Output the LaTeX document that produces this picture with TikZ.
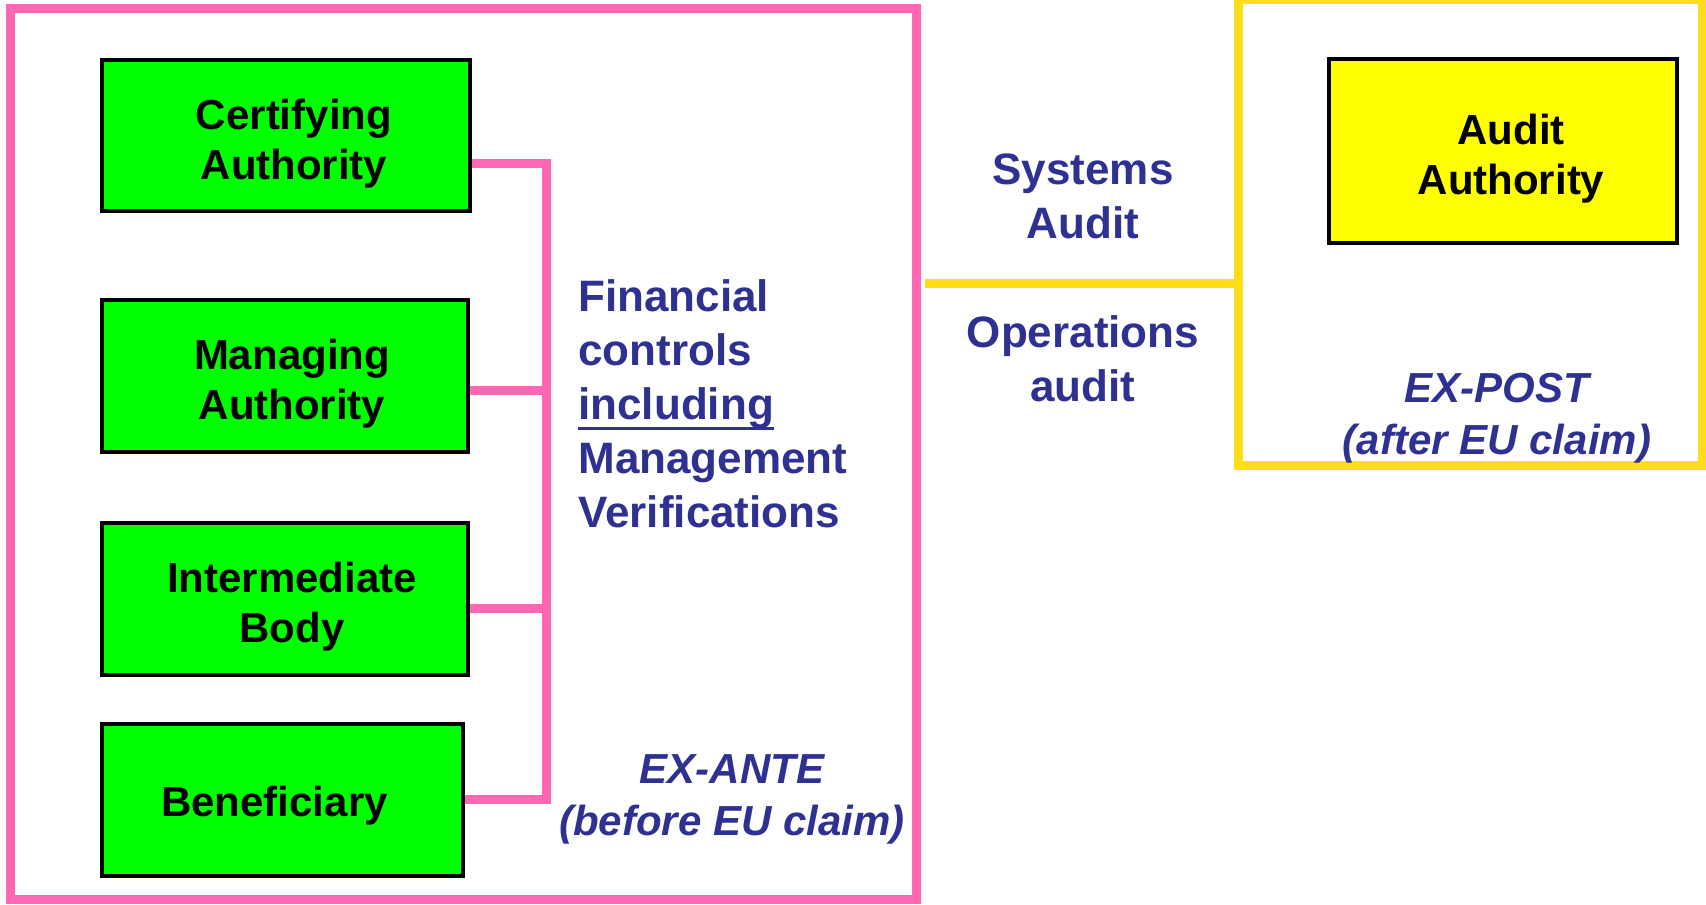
\documentclass[tikz,border=0pt]{standalone}
\usepackage{fontspec}
\setmainfont{Liberation Sans}
\usepackage{tikz}
\definecolor{pnk}{RGB}{255,102,180}
\definecolor{ylw}{RGB}{255,222,23}
\definecolor{grn}{RGB}{0,255,0}
\definecolor{lem}{RGB}{255,255,0}
\definecolor{blu}{RGB}{46,49,146}
\newcommand{\thickul}[1]{\setbox0\hbox{#1}\rlap{\rule[-5.5pt]{\wd0}{1.7pt}}\box0}
\tikzset{
  unitbox/.style={draw=black,line width=1.6pt,inner sep=0pt},
  boxtxt/.style={align=center,inner sep=0pt,font=\fontsize{21}{25}\selectfont\bfseries},
  zone/.style={line width=4.5pt,inner sep=0pt},
  bluetxt/.style={text=blu,inner sep=0pt,font=\fontsize{22}{27}\selectfont\bfseries},
  ittxt/.style={text=blu,inner sep=0pt,align=center,font=\fontsize{21}{26}\selectfont\bfseries\itshape},
  link/.style={draw=pnk,line width=4.5pt}
}

\begin{document}
\begin{tikzpicture}[x=0.5pt,y=-0.5pt]
\useasboundingbox (0,0) rectangle (1706,904);
\node[zone,draw=pnk,minimum width=453pt,minimum height=445pt] (ante) at (463,454) {};
\node[zone,draw=ylw,minimum width=232pt,minimum height=232.5pt] (post) at (1470,232.5) {};
\node[unitbox,fill=grn,minimum width=184pt,minimum height=75.5pt] (ca) at (286,135.5) {};
\node[unitbox,fill=grn,minimum width=183pt,minimum height=76pt] (ma) at (285,376) {};
\node[unitbox,fill=grn,minimum width=183pt,minimum height=76pt] (ib) at (285,599) {};
\node[unitbox,fill=grn,minimum width=180.5pt,minimum height=76pt] (be) at (282.5,800) {};
\node[unitbox,fill=lem,minimum width=174pt,minimum height=92pt] (aa) at (1503,151) {};
\node[boxtxt] (catxt) at ([shift={(8,8)}]ca.center) {Certifying\\Authority};
\node[boxtxt] (matxt) at ([shift={(7,8)}]ma.center) {Managing\\Authority};
\node[boxtxt] (ibtxt) at ([shift={(7,8)}]ib.center) {Intermediate\\Body};
\node[boxtxt] (betxt) at ([shift={(-8,6)}]be.center) {Beneficiary};
\node[boxtxt] (aatxt) at ([shift={(8,8)}]aa.center) {Audit\\Authority};
\coordinate (jca) at (546,163);
\coordinate (jma) at (546,390);
\coordinate (jib) at (546,608);
\coordinate (jbe) at (546,799);
\draw[link] (ca.east |- jca) -- (jca) -- (jbe) -- (be.east |- jbe);
\draw[link] (ma.east |- jma) -- (jma);
\draw[link] (ib.east |- jib) -- (jib);
\coordinate (sa) at (1080,283);
\draw[ylw,line width=4.5pt,shorten <=2.25pt] (ante.east |- sa) -- (post.west |- sa);
\node[bluetxt,anchor=north west,align=left] (fin) at (578,279) {Financial\\controls\\\thickul{including}\\Management\\Verifications};
\node[bluetxt,anchor=north,align=center] (sys) at (1083,153) {Systems\\Audit};
\node[bluetxt,anchor=north,align=center] (ops) at (1083,315) {Operations\\audit};
\node[ittxt,anchor=north] (postlbl) at (1497,373) {EX-POST\\(after EU claim)};
\node[ittxt,anchor=north] (antelbl) at (732,754) {EX-ANTE\\(before EU claim)};
\end{tikzpicture}
\end{document}
